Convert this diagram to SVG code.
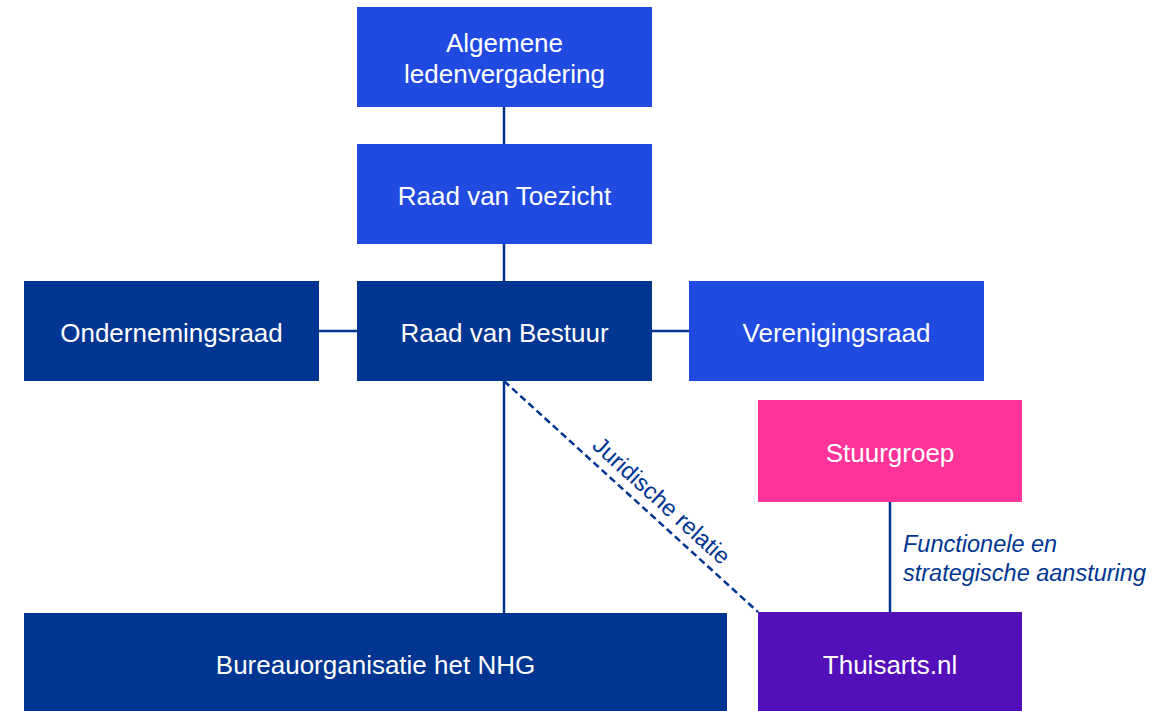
<svg xmlns="http://www.w3.org/2000/svg" width="1175" height="711" viewBox="0 0 1175 711">
<style>
.lbl{font-family:"Liberation Sans",Arial,sans-serif;font-size:26px;fill:#ffffff;text-anchor:middle}
.c{stroke:#003591;stroke-width:2.5;fill:none}
.note{font-family:"Liberation Sans",Arial,sans-serif;fill:#003591}
.b1{fill:#214BE0}.b2{fill:#003591}
</style>
<rect width="1175" height="711" fill="#ffffff"/>
<g id="connectors">
<line class="c" x1="504" y1="107" x2="504" y2="144"/>
<line class="c" x1="504" y1="244" x2="504" y2="281"/>
<line class="c" x1="319" y1="331" x2="357" y2="331"/>
<line class="c" x1="652" y1="331" x2="689" y2="331"/>
<line class="c" x1="504" y1="381" x2="504" y2="613"/>
<line class="c" x1="504" y1="381" x2="758" y2="612" stroke-dasharray="7,4"/>
<line class="c" x1="890" y1="502" x2="890" y2="612"/>
<text class="note" font-size="23.5" text-anchor="middle" transform="translate(649.8,513.6) rotate(42.3)" y="-9.5">Juridische relatie</text>
<text class="note" font-size="23.5" font-style="italic" x="903" y="552">Functionele en</text>
<text class="note" font-size="23.5" font-style="italic" x="903" y="581">strategische aansturing</text>
</g>
<g id="alv"><rect class="b1" x="357" y="7" width="295" height="100"/><text class="lbl" x="504.5" y="52">Algemene</text><text class="lbl" x="504.5" y="83">ledenvergadering</text></g>
<g id="rvt"><rect class="b1" x="357" y="144" width="295" height="100"/><text class="lbl" x="504.5" y="205">Raad van Toezicht</text></g>
<g id="or"><rect class="b2" x="24" y="281" width="295" height="100"/><text class="lbl" x="171.5" y="342">Ondernemingsraad</text></g>
<g id="rvb"><rect class="b2" x="357" y="281" width="295" height="100"/><text class="lbl" x="504.5" y="342">Raad van Bestuur</text></g>
<g id="vr"><rect class="b1" x="689" y="281" width="295" height="100"/><text class="lbl" x="836.5" y="342">Verenigingsraad</text></g>
<g id="stuurgroep"><rect fill="#FF3399" x="758" y="400" width="264" height="102"/><text class="lbl" x="890" y="462">Stuurgroep</text></g>
<g id="thuisarts"><rect fill="#520FBA" x="758" y="612" width="264" height="99"/><text class="lbl" x="890" y="674">Thuisarts.nl</text></g>
<g id="bureau"><rect class="b2" x="24" y="613" width="703" height="98"/><text class="lbl" x="375.5" y="674">Bureauorganisatie het NHG</text></g>
</svg>
